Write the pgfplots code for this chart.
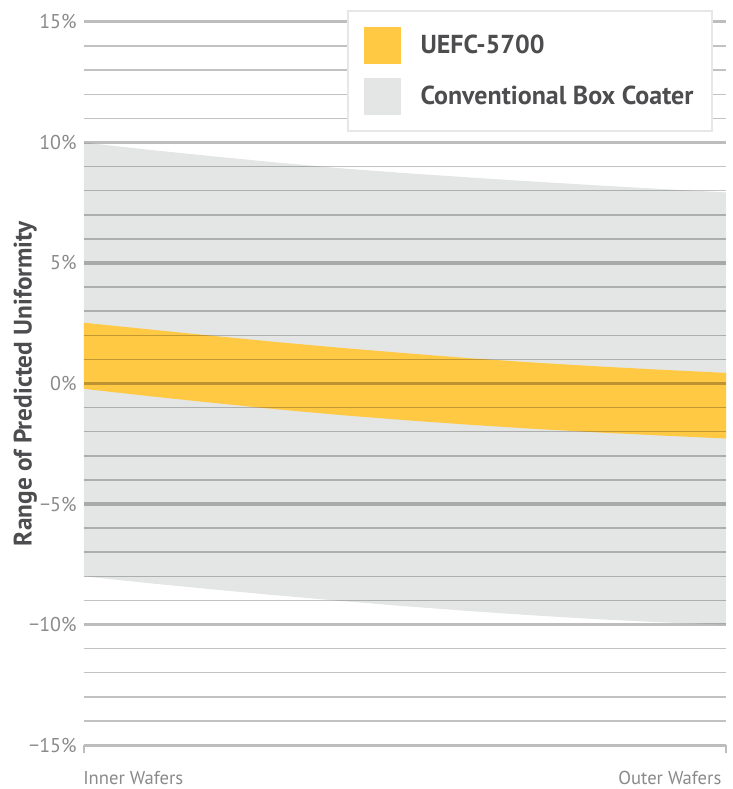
\documentclass[border=0pt]{standalone}
\usepackage{fontspec}
\setmainfont{PT Sans}
\usepackage{pgfplots}
\pgfplotsset{compat=1.18}
\definecolor{yel}{HTML}{FFC943}
\definecolor{bandgray}{HTML}{E4E5E5}
\definecolor{txtdark}{HTML}{4D4D4F}
\definecolor{ticktxt}{HTML}{8A8A8A}
\definecolor{legframe}{HTML}{E6E7E7}
\definecolor{tickmark}{HTML}{BDBDBD}
\begin{document}
\begin{tikzpicture}
\begin{axis}[
  scale only axis, width=482.25pt, height=543pt,
  xmin=0, xmax=1, ymin=-15, ymax=15,
  axis line style={draw=none},
  axis on top,
  ytick={-15,-10,-5,0,5,10,15},
  yticklabels={−15\%,−10\%,−5\%,0\%,5\%,10\%,15\%},
  yticklabel style={font=\fontsize{15}{18}\selectfont, text=ticktxt, xshift=-2pt},
  minor y tick num=4,
  ymajorgrids, yminorgrids,
  major grid style={line width=2.3pt, draw=black, draw opacity=0.26},
  minor grid style={line width=1.1pt, draw=black, draw opacity=0.24},
  ytick style={draw=none}, minor tick style={draw=none},
  xtick={0}, xticklabels={Inner Wafers},
  xticklabel style={anchor=north west, font=\fontsize{14}{17}\selectfont, text=ticktxt, yshift=-10pt, xshift=-4pt},
  extra x ticks={1}, extra x tick labels={Outer Wafers},
  extra x tick style={xticklabel style={anchor=north east, xshift=4pt}},
  xtick pos=left, xtick align=outside,
  x tick style={draw=tickmark, line width=2pt},
  major tick length=6pt,
  every axis y label/.style={at={(rel axis cs:0,0.5)}, xshift=-44pt, rotate=90, anchor=center},
  ylabel={Range of Predicted Uniformity},
  ylabel style={font=\fontsize{19}{22}\selectfont\bfseries, text=txtdark},
  reverse legend,
  legend cell align=left,
  legend image code/.code={\fill[#1] (0pt,-13.875pt) rectangle (27.75pt,13.875pt);},
  legend style={at={(rel axis cs:0.409,1.0166)}, anchor=north west, draw=legframe, line width=1.6pt, fill=white,
    font=\fontsize{19.5}{23}\selectfont\bfseries, text=txtdark, inner xsep=12pt, inner ysep=12pt, row sep=10.5pt,
    /tikz/column 1/.style={column sep=13pt}},
]
\addplot[fill=bandgray, draw=none] coordinates {
  (0,10) (0.1,9.7) (0.2,9.43) (0.3,9.17) (0.4,8.93) (0.5,8.73) (0.6,8.55) (0.7,8.38) (0.8,8.22) (0.9,8.07) (1,7.93)
  (1,-10) (0.9,-9.91) (0.8,-9.78) (0.7,-9.62) (0.6,-9.44) (0.5,-9.24) (0.4,-9.02) (0.3,-8.79) (0.2,-8.54) (0.1,-8.28) (0,-8)
} -- cycle;
\addlegendentry{Conventional Box Coater}
\addplot[fill=yel, draw=none] coordinates {
  (0,2.52) (0.1,2.25) (0.2,1.98) (0.3,1.72) (0.4,1.48) (0.5,1.26) (0.6,1.05) (0.7,0.87) (0.8,0.71) (0.9,0.57) (1,0.44)
  (1,-2.28) (0.9,-2.16) (0.8,-2.03) (0.7,-1.88) (0.6,-1.71) (0.5,-1.52) (0.4,-1.31) (0.3,-1.07) (0.2,-0.8) (0.1,-0.52) (0,-0.22)
} -- cycle;
\addlegendentry{UEFC-5700}
\end{axis}
\path (current axis.south west) ++(-63pt,-32.25pt);
\path (current axis.north east) ++(4.5pt,16.5pt);
\end{tikzpicture}
\end{document}
